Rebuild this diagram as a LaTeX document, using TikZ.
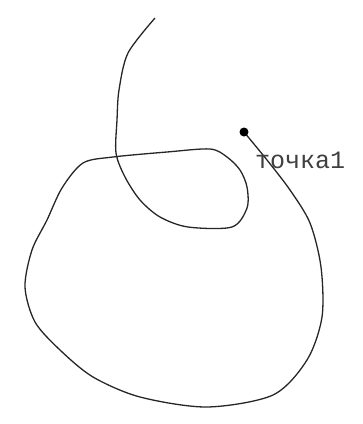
\documentclass[tikz,border=0pt]{standalone}
\usepackage{fontspec}
\setmonofont{Liberation Mono}
\usepackage{tikz}
\usetikzlibrary{positioning}

\begin{document}
\begin{tikzpicture}[x=1pt,y=-1pt]
    \useasboundingbox (0,0) rectangle (363,424);
    \draw[line width=1.3pt, black!85] plot[smooth, tension=0.5] coordinates {
        (155,18) (128,53) (119,90) (117,120) (116,153) % down
        (125,177) (140,200) (160,217) (188,227) (232,227) % small loop
        (247,208) (247,187) (240,170) (227,157) (210,149)
        (167,152) (113,157) (83,163) (62,188) (47,220) % big loop
        (32,250) (25,287) (35,322) (60,350) (93,377)
        (140,397) (207,407) (273,395) (307,360) (322,317)
        (321,267) (310,223) (290,190) (267,160) (244,132)};
    \fill (244,132) circle(4.5); % point
    \node[font=\ttfamily\fontsize{25}{25}\selectfont, text=black!75, inner sep=0pt, anchor=west] (label) at (255,160) {точка1};
\end{tikzpicture}
\end{document}
